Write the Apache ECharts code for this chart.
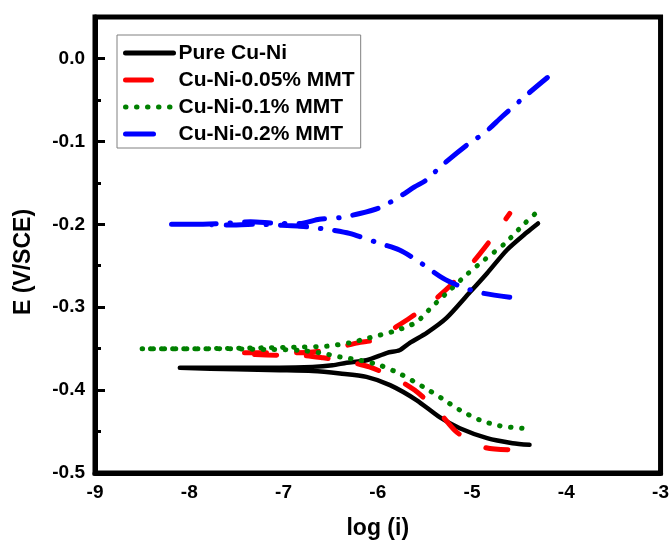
<!DOCTYPE html>
<html>
<head>
<meta charset="utf-8">
<script src="https://cdn.jsdelivr.net/npm/echarts@6/dist/echarts.min.js"></script>
<style>html,body{margin:0;padding:0;background:#fff}#c{width:672px;height:550px}</style>
</head>
<body>
<div id="c"></div>
<script>
// Tick labels / axis ranges
const xTicks = [-9, -8, -7, -6, -5, -4, -3];
const yTicks = [-0.5, -0.4, -0.3, -0.2, -0.1, 0.0];
const seriesNames = ['Pure Cu-Ni', 'Cu-Ni-0.05% MMT', 'Cu-Ni-0.1% MMT', 'Cu-Ni-0.2% MMT'];

// Pure Cu-Ni (cathodic end -> Ecorr -> anodic end)
const pureX = [-4.39, -4.57, -4.84, -5.13, -5.34, -5.59, -5.87, -6.12, -6.40, -6.69, -7.04, -7.50, -8.10,
               -7.50, -7.04, -6.69, -6.48, -6.33, -6.12, -5.90, -5.77, -5.66, -5.48, -5.27, -5.03, -4.84, -4.63, -4.42, -4.30];
const pureY = [-0.466, -0.464, -0.458, -0.446, -0.433, -0.412, -0.394, -0.384, -0.380, -0.377, -0.376, -0.375, -0.373,
               -0.373, -0.373, -0.372, -0.370, -0.367, -0.364, -0.355, -0.352, -0.343, -0.331, -0.313, -0.283, -0.259, -0.231, -0.210, -0.199];

// Cu-Ni-0.05% MMT
const mmt005X = [-4.62, -4.87, -5.16, -5.37, -5.61, -5.84, -6.09, -6.30, -6.58, -6.83, -7.04, -7.30, -7.52,
                 -7.30, -7.04, -6.69, -6.44, -6.21, -6.01, -5.89, -5.66, -5.47, -5.22, -5.00, -4.79, -4.60];
const mmt005Y = [-0.472, -0.469, -0.451, -0.424, -0.400, -0.384, -0.372, -0.366, -0.361, -0.358, -0.358, -0.357, -0.355,
                 -0.355, -0.355, -0.354, -0.349, -0.343, -0.339, -0.330, -0.313, -0.298, -0.273, -0.247, -0.217, -0.187];

// Cu-Ni-0.1% MMT
const mmt01X = [-4.47, -4.71, -4.92, -5.13, -5.32, -5.52, -5.77, -5.98, -6.19, -6.40, -6.62, -6.83, -7.20, -7.80, -8.51,
                -7.80, -7.20, -6.80, -6.54, -6.30, -6.09, -5.80, -5.59, -5.42, -5.24, -5.06, -4.87, -4.65, -4.46, -4.26];
const mmt01Y = [-0.446, -0.443, -0.436, -0.424, -0.410, -0.396, -0.380, -0.370, -0.364, -0.360, -0.355, -0.352, -0.351, -0.350, -0.350,
                -0.350, -0.349, -0.348, -0.347, -0.343, -0.337, -0.328, -0.318, -0.299, -0.280, -0.261, -0.243, -0.223, -0.201, -0.180];

// Cu-Ni-0.2% MMT
const mmt02X = [-4.60, -4.89, -5.10, -5.31, -5.59, -5.77, -5.98, -6.30, -6.48, -6.69, -6.85, -7.04, -7.30, -7.60, -7.90, -8.24,
                -7.95, -7.65, -7.35, -7.05, -6.83, -6.62, -6.40, -6.19, -5.98, -5.80, -5.61, -5.49, -5.31, -5.05, -4.86, -4.68, -4.40, -4.20];
const mmt02Y = [-0.288, -0.283, -0.276, -0.265, -0.243, -0.231, -0.223, -0.211, -0.207, -0.204, -0.202, -0.201, -0.200, -0.201, -0.200, -0.200,
                -0.200, -0.199, -0.197, -0.199, -0.199, -0.194, -0.192, -0.187, -0.180, -0.169, -0.155, -0.147, -0.128, -0.104, -0.089, -0.070, -0.042, -0.023];

const zip = (xs, ys) => xs.map((x, i) => [x, ys[i]]);

const FONT = "'Liberation Sans', Arial, sans-serif";

const chart = echarts.init(document.getElementById('c'), null, {renderer: 'canvas'});
chart.setOption({
  animation: false,
  backgroundColor: '#fff',
  grid: {left: 95, right: 11, top: 17, bottom: 77, show: true, borderColor: '#000', borderWidth: 5, containLabel: false},
  legend: {
    orient: 'vertical', left: 117, top: 35,
    padding: [7, 6, 3, 6],
    itemWidth: 48, itemHeight: 14, itemGap: 5,
    borderColor: '#808080', borderWidth: 1,
    itemStyle: {opacity: 0},
    lineStyle: {width: 5},
    textStyle: {fontFamily: FONT, fontWeight: 'bold', fontSize: 21, color: '#000', lineHeight: 22},
    data: [
      {name: seriesNames[0]},
      {name: seriesNames[1], lineStyle: {width: 5, type: [26, 100]}},
      {name: seriesNames[2]},
      {name: seriesNames[3], lineStyle: {width: 5, type: [28, 100]}}
    ]
  },
  xAxis: {
    type: 'value', min: -9, max: -3, interval: 1,
    axisLine: {show: true, onZero: false, lineStyle: {color: '#000', width: 5}},
    axisTick: {show: false},
    splitLine: {show: false},
    axisLabel: {fontFamily: FONT, fontWeight: 'bold', fontSize: 19, color: '#000', margin: 10,
      formatter: v => xTicks.includes(v) ? String(v) : ''},
    name: 'log (i)', nameLocation: 'middle', nameGap: 44,
    nameTextStyle: {fontFamily: FONT, fontWeight: 'bold', fontSize: 23, color: '#000'}
  },
  yAxis: [{
    type: 'value', min: -0.5, max: 0.05, interval: 0.1,
    axisLine: {show: true, onZero: false, lineStyle: {color: '#000', width: 5}},
    axisTick: {show: true, inside: true, length: 10, lineStyle: {color: '#000', width: 3}},
    splitLine: {show: false},
    axisLabel: {fontFamily: FONT, fontWeight: 'bold', fontSize: 19, color: '#000', margin: 10, showMaxLabel: false,
      formatter: v => { const t = yTicks.find(k => Math.abs(k - v) < 1e-6); return t === undefined ? '' : t.toFixed(1); }},
    name: 'E (V/SCE)', nameLocation: 'middle', nameGap: 60, nameRotate: 90,
    nameTextStyle: {fontFamily: FONT, fontWeight: 'bold', fontSize: 23, color: '#000', padding: [0, 34, 0, 0]}
  }, {
    type: 'value', min: -0.5, max: 0.05, interval: 0.05, position: 'left',
    axisLine: {show: false, onZero: false},
    axisTick: {show: true, inside: true, length: 6, lineStyle: {color: '#000', width: 3}},
    axisLabel: {show: false},
    splitLine: {show: false}
  }],
  series: [
    {name: seriesNames[0], type: 'line', data: zip(pureX, pureY), showSymbol: false, symbol: 'none', smooth: 0.25,
      lineStyle: {color: '#000', width: 4.5, type: 'solid', cap: 'round', join: 'round'}, itemStyle: {color: '#000'}},
    {name: seriesNames[1], type: 'line', data: zip(mmt005X, mmt005Y), showSymbol: false, symbol: 'none', smooth: 0.25,
      lineStyle: {color: '#ff0000', width: 5, type: [22, 30], cap: 'round', join: 'round'}, itemStyle: {color: '#ff0000'}},
    {name: seriesNames[2], type: 'line', data: zip(mmt01X, mmt01Y), showSymbol: false, symbol: 'none', smooth: 0.25,
      lineStyle: {color: '#008000', width: 5, type: [0.5, 10.5], cap: 'round', join: 'round'}, itemStyle: {color: '#008000'}},
    {name: seriesNames[3], type: 'line', data: zip(mmt02X, mmt02Y), showSymbol: false, symbol: 'none', smooth: 0.25,
      lineStyle: {color: '#0000ff', width: 5, type: [26, 14, 0.5, 14], cap: 'round', join: 'round'}, itemStyle: {color: '#0000ff'}}
  ]
});
</script>
</body>
</html>
